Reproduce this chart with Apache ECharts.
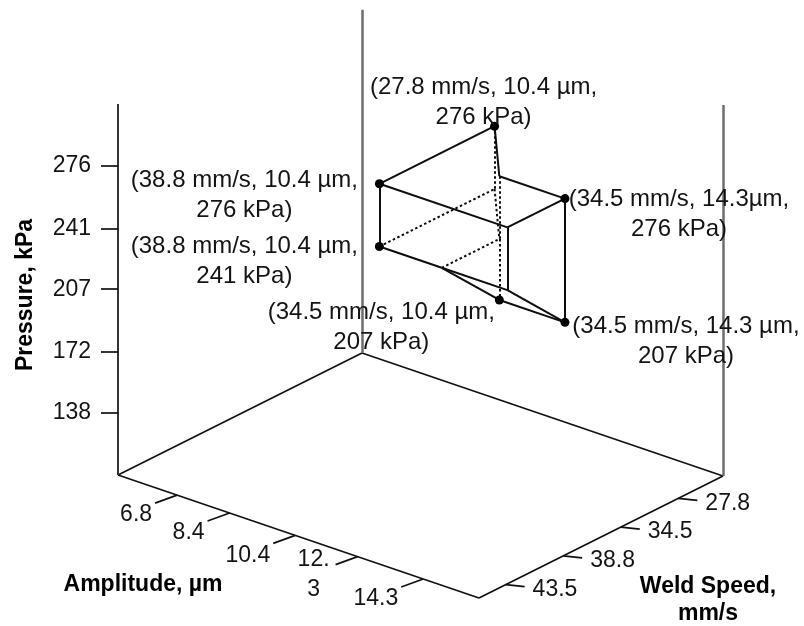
<!DOCTYPE html>
<html>
<head>
<meta charset="utf-8">
<script src="https://cdn.jsdelivr.net/npm/echarts@6/dist/echarts.min.js"></script>
<style>
  html, body { margin: 0; padding: 0; background: #fff; }
  #chart { width: 804px; height: 626px; }
</style>
</head>
<body>
<div id="chart"></div>
<script>
// axis ticks
const pressureTicks = [138, 172, 207, 241, 276];
const amplitudeTicks = [6.8, 8.4, 10.4, 12.3, 14.3];
const amplitudeTickLabels = ['6.8', '8.4', '10.4', '12.\n3', '14.3'];
const speedTicks = [27.8, 34.5, 38.8, 43.5];

// axis extents (pressure axis spans 15-45 psi, in kPa)
const pressureRange = [103.4, 310.3];
const amplitudeRange = [5, 16];

// corners of the process window; the first six are the marked points
const vertexNames = ['A', 'B', 'C', 'D', 'E', 'F', 'G', 'H', 'I', 'J', 'K', 'L'];
const vertexSpeed = [27.8, 38.8, 34.5, 38.8, 34.5, 34.5, 38.8, 38.8, 34.5, 38.8, 34.5, 27.8];
// E is drawn at 12.3 um in the figure although its label reads 10.4 um
const vertexAmplitude = [10.4, 10.4, 14.3, 10.4, 12.3, 14.3, 14.3, 14.3, 12.3, 12.3, 12.3, 10.4];
const vertexPressure = [276, 276, 276, 241, 207, 207, 276, 241, 276, 241, 241, 241];

const pointLabels = [
  '(27.8 mm/s, 10.4 µm,\n276 kPa)',
  '(38.8 mm/s, 10.4 µm,\n276 kPa)',
  '(34.5 mm/s, 14.3µm,\n276 kPa)',
  '(38.8 mm/s, 10.4 µm,\n241 kPa)',
  '(34.5 mm/s, 10.4 µm,\n207 kPa)',
  '(34.5 mm/s, 14.3 µm,\n207 kPa)'
];

const solidEdges = [
  ['A', 'B'], ['B', 'G'], ['G', 'C'], ['C', 'I'], ['I', 'A'],
  ['B', 'D'], ['G', 'H'], ['C', 'F'],
  ['D', 'J'], ['J', 'H'], ['H', 'F'], ['J', 'E'], ['E', 'F']
];
const dottedEdges = [
  ['A', 'L'], ['L', 'K'], ['I', 'K'], ['K', 'E'], ['D', 'L'], ['J', 'K']
];

// oblique projection of the box onto the page
const BOX = { origin: [362, 353], amp: [361, 123], speed: [-244, 122], height: 371 };
const SPEED_START = 0.183;
const SPEED_STEP = 0.236;
const FONT = '"Liberation Sans", Arial, sans-serif';
const TEXT = '#141414';

function speedLevel(v) {
  for (let i = 0; i < speedTicks.length - 1; i++) {
    if (v <= speedTicks[i + 1]) {
      return i + (v - speedTicks[i]) / (speedTicks[i + 1] - speedTicks[i]);
    }
  }
  return speedTicks.length - 1;
}

function toScreen(ta, tu, tp) {
  return [
    BOX.origin[0] + ta * BOX.amp[0] + tu * BOX.speed[0],
    BOX.origin[1] + ta * BOX.amp[1] + tu * BOX.speed[1] - tp * BOX.height
  ];
}

const ampFrac = (a) => (a - amplitudeRange[0]) / (amplitudeRange[1] - amplitudeRange[0]);
const pressFrac = (p) => (p - pressureRange[0]) / (pressureRange[1] - pressureRange[0]);
const speedFrac = (s) => SPEED_START + SPEED_STEP * speedLevel(s);

function project(speed, amp, press) {
  return toScreen(ampFrac(amp), speedFrac(speed), pressFrac(press));
}

const vertexPos = {};
vertexNames.forEach((n, i) => {
  vertexPos[n] = project(vertexSpeed[i], vertexAmplitude[i], vertexPressure[i]);
});

const add = (p, d) => [p[0] + d[0], p[1] + d[1]];

// frame
const floorStyle = { color: '#111', width: 1.7, opacity: 1 };
const frameData = [
  { coords: [toScreen(0, 0, 0), toScreen(0, 1, 0)], lineStyle: floorStyle },
  { coords: [toScreen(0, 1, 0), toScreen(1, 1, 0)], lineStyle: floorStyle },
  { coords: [toScreen(1, 1, 0), toScreen(1, 0, 0)], lineStyle: floorStyle },
  { coords: [toScreen(1, 0, 0), toScreen(0, 0, 0)], lineStyle: floorStyle },
  { coords: [toScreen(0, 1, 0), toScreen(0, 1, 1)], lineStyle: { color: '#333', width: 2, opacity: 1 } },
  { coords: [toScreen(1, 0, 0), toScreen(1, 0, 1)], lineStyle: { color: '#6e6e6e', width: 2.5, opacity: 1 } },
  { coords: [toScreen(0, 0, 0), toScreen(0, 0, 0.925)], lineStyle: { color: '#6e6e6e', width: 2.5, opacity: 1 } }
];

// ticks
const tickData = [];
const pressureLabelData = [];
const ampLabelData = [];
const speedLabelData = [];
pressureTicks.forEach((p) => {
  const base = toScreen(0, 1, pressFrac(p));
  const end = add(base, [-17, 0]);
  tickData.push({ coords: [base, end] });
  pressureLabelData.push({ value: end, name: String(p) });
});
amplitudeTicks.forEach((a, i) => {
  const base = toScreen(ampFrac(a), 1, 0);
  const end = add(base, [-22, 8]);
  tickData.push({ coords: [base, end] });
  const item = { value: end, name: amplitudeTickLabels[i] };
  if (amplitudeTickLabels[i].indexOf('\n') >= 0) {
    item.label = { position: 'inside', align: 'center', offset: [-22, 10], lineHeight: 30 };
  }
  ampLabelData.push(item);
});
speedTicks.forEach((s) => {
  const base = toScreen(1, speedFrac(s), 0);
  const end = add(base, [19, 2]);
  tickData.push({ coords: [base, end] });
  speedLabelData.push({ value: end, name: String(s) });
});

const edgeData = solidEdges.map(([a, b]) => ({
  coords: [vertexPos[a], vertexPos[b]],
  lineStyle: { type: 'solid' }
})).concat(dottedEdges.map(([a, b]) => ({
  coords: [vertexPos[a], vertexPos[b]],
  lineStyle: { type: [2.5, 2.5] }
})));

const labelOffsets = [[-11, -24], [-135, 12], [114, 16], [-135, 15], [-118, 27], [121, 19]];
const pointData = pointLabels.map((txt, i) => ({
  value: vertexPos[vertexNames[i]],
  name: txt,
  label: { offset: labelOffsets[i] }
}));

const tickText = { color: TEXT, fontFamily: FONT, fontSize: 23, opacity: 1 };
const pointText = { color: TEXT, fontFamily: FONT, fontSize: 24, opacity: 1 };
const titleFont = 'bold 23px ' + FONT;

const option = {
  animation: false,
  backgroundColor: '#fff',
  grid: { left: 0, right: 0, top: 0, bottom: 0 },
  xAxis: { type: 'value', min: 0, max: 804, show: false },
  yAxis: { type: 'value', min: 0, max: 626, inverse: true, show: false },
  graphic: [
    {
      type: 'text', x: 26, y: 295, rotation: Math.PI / 2,
      style: { text: 'Pressure, kPa', font: titleFont, fill: '#000', align: 'center', verticalAlign: 'middle' }
    },
    {
      type: 'text', x: 143, y: 585,
      style: { text: 'Amplitude, µm', font: titleFont, fill: '#000', align: 'center', verticalAlign: 'middle' }
    },
    {
      type: 'text', x: 708, y: 600,
      style: { text: 'Weld Speed,\nmm/s', font: titleFont, fill: '#000', align: 'center', verticalAlign: 'middle', lineHeight: 27 }
    }
  ],
  series: [
    {
      type: 'lines', coordinateSystem: 'cartesian2d', z: 2,
      data: frameData
    },
    {
      type: 'lines', coordinateSystem: 'cartesian2d', z: 2,
      lineStyle: { color: '#111', width: 1.7, opacity: 1 },
      data: tickData
    },
    {
      type: 'lines', coordinateSystem: 'cartesian2d', z: 3,
      lineStyle: { color: '#0d0d0d', width: 2, opacity: 1 },
      data: edgeData
    },
    {
      type: 'scatter', symbolSize: 0, z: 4, silent: true,
      itemStyle: { opacity: 1 },
      label: { show: true, position: 'left', distance: 10, formatter: '{b}', ...tickText },
      data: pressureLabelData
    },
    {
      type: 'scatter', symbolSize: 0, z: 4, silent: true,
      itemStyle: { opacity: 1 },
      label: { show: true, position: 'left', distance: 3, offset: [0, 12], formatter: '{b}', ...tickText },
      data: ampLabelData
    },
    {
      type: 'scatter', symbolSize: 0, z: 4, silent: true,
      itemStyle: { opacity: 1 },
      label: { show: true, position: 'right', distance: 8, offset: [0, 3], formatter: '{b}', ...tickText },
      data: speedLabelData
    },
    {
      type: 'scatter', symbolSize: 9, z: 5,
      itemStyle: { color: '#000', opacity: 1 },
      label: {
        show: true, position: 'inside', align: 'center', verticalAlign: 'middle',
        lineHeight: 30, formatter: '{b}', ...pointText
      },
      data: pointData
    }
  ]
};

const chart = echarts.init(document.getElementById('chart'));
chart.setOption(option);
</script>
</body>
</html>
